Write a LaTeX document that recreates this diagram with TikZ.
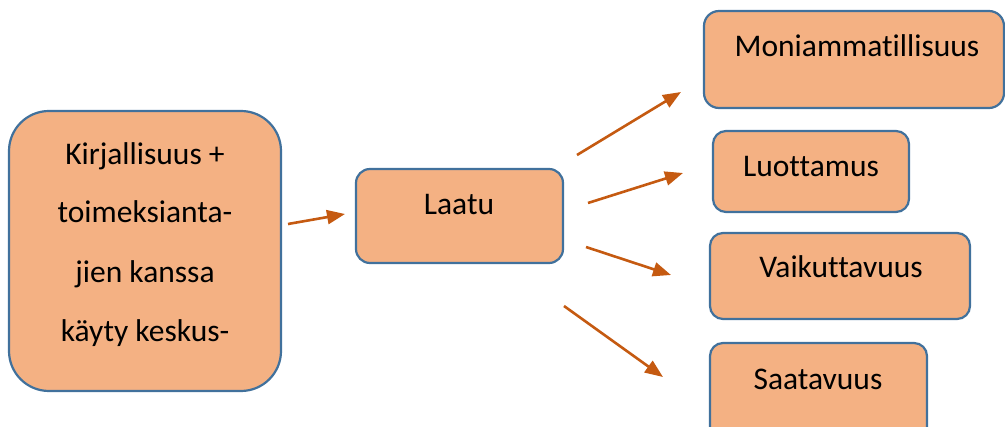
\documentclass[tikz,border=0pt]{standalone}
\usepackage{fontspec}
\setmainfont{Carlito}[Ligatures={NoCommon,NoRequired,NoContextual}]
\usetikzlibrary{arrows.meta}
\definecolor{boxfill}{HTML}{F4B183}
\definecolor{boxline}{HTML}{41719C}
\definecolor{arr}{HTML}{C55A11}
\tikzset{
  box/.style={draw=boxline, fill=boxfill, line width=2.2pt, inner sep=0pt},
  lbl/.style={anchor=base, inner sep=0pt, font=\fontsize{31.5}{38}\selectfont},
  conn/.style={draw=arr, line width=2.6pt, -{Triangle[length=18pt,width=14pt]}}
}
\begin{document}
\begin{tikzpicture}[x=1pt,y=-1pt]
\useasboundingbox (0,0) rectangle (1005,427);
\clip (0,0) rectangle (1005,427);
% boxes
\draw[box, rounded corners=40pt] (9,111) rectangle (281,391);
\draw[box, rounded corners=14pt] (356,169) rectangle (563,263);
\draw[box, rounded corners=15pt] (704,11) rectangle (1004,108);
\draw[box, rounded corners=13pt] (713,131) rectangle (909,212);
\draw[box, rounded corners=13pt] (710,233) rectangle (970,319);
\draw[box, rounded corners=13pt] (710,343) rectangle (927,445);
% texts
\node[lbl] (k1) at (145,165) {Kirjallisuus +};
\node[lbl] (k2) at (145,223) {toimeksianta-};
\node[lbl] (k3) at (145,283) {jien kanssa};
\node[lbl] (k4) at (145,342) {käyty keskus-};
\node[lbl] (laatu) at (459,215) {Laatu};
\node[lbl] (moni) at (857,57) {Moniammatillisuus};
\node[lbl] (luot) at (811,177) {Luottamus};
\node[lbl] (vaik) at (841,278) {Vaikuttavuus};
\node[lbl] (saat) at (818,390) {Saatavuus};
% arrow endpoints
\coordinate (a0s) at (288,224);
\coordinate (a0e) at (345,214);
\coordinate (a1s) at (577,155);
\coordinate (a1e) at (681,92);
\coordinate (a2s) at (588,203);
\coordinate (a2e) at (683,173);
\coordinate (a3s) at (586,247);
\coordinate (a3e) at (671,275);
\coordinate (a4s) at (564,306);
\coordinate (a4e) at (663,377);
\draw[conn] (a0s) -- (a0e);
\draw[conn] (a1s) -- (a1e);
\draw[conn] (a2s) -- (a2e);
\draw[conn] (a3s) -- (a3e);
\draw[conn] (a4s) -- (a4e);
\end{tikzpicture}
\end{document}
